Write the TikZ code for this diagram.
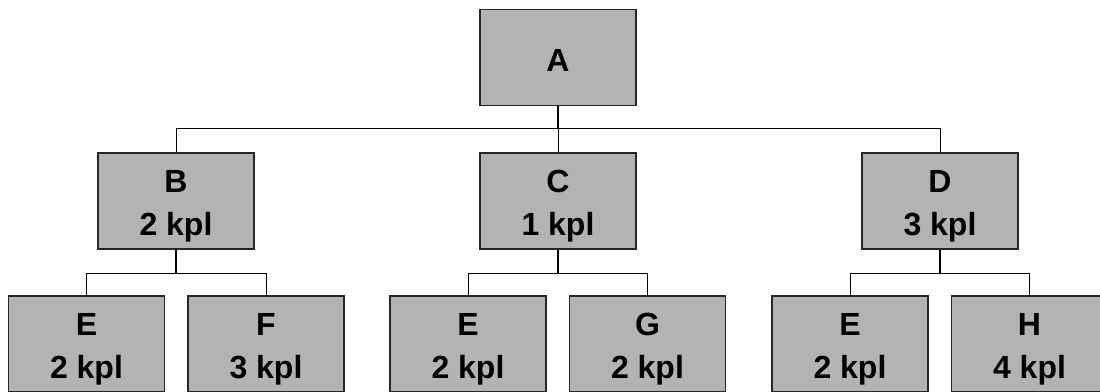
\documentclass[tikz,border=0pt]{standalone}
\usepackage{fontspec}
\setmainfont{Liberation Sans}
\usepackage{tikz}
\usetikzlibrary{positioning}

\definecolor{boxgray}{RGB}{179,179,179}
% taller first line, so the two lines sit a bit lower in the box
\newcommand{\topstrut}{\rule{0pt}{33pt}}

\begin{document}
\begin{tikzpicture}[x=1pt,y=1pt,node distance=143pt,on grid,
  box/.style={draw=black!85,line width=1.3pt,fill=boxgray,
    minimum width=156pt,minimum height=96pt,inner sep=0pt,align=center,
    font=\bfseries\fontsize{32}{42.5}\selectfont},
  root/.style={box,execute at begin node={\rule{0pt}{28pt}}},
  link/.style={line width=0.9pt},
  stem/.style={line width=1.6pt}]

  \useasboundingbox (0,0) rectangle (1100,-391);

  % top of the tree
  \node[root] (A) at (558,-57.5) {A};

  % second level
  \node[box] (C) [below=143.5pt of A] {\topstrut C\\1 kpl};
  \node[box] (B) [left=382pt of C] {\topstrut B\\2 kpl};
  \node[box] (D) [right=382pt of C] {\topstrut D\\3 kpl};

  % third level
  \node[box] (E1) [below left=143pt and 89.5pt of B] {\topstrut E\\2 kpl};
  \node[box] (F) [below right=143pt and 90pt of B] {\topstrut F\\3 kpl};
  \node[box] (E2) [below left=143pt and 90pt of C] {\topstrut E\\2 kpl};
  \node[box] (G) [below right=143pt and 89.5pt of C] {\topstrut G\\2 kpl};
  \node[box] (E3) [below left=143pt and 90pt of D] {\topstrut E\\2 kpl};
  \node[box] (H) [below right=143pt and 89.5pt of D] {\topstrut H\\4 kpl};

  % connectors
  \draw[stem] (A.south) -- ++(0,-22.7) coordinate (busA);
  \draw[link] (B.north) |- (busA) -| (D.north);
  \draw[link] (busA) -- (C.north);

  \draw[stem] (B.south) -- ++(0,-23.7) coordinate (busB);
  \draw[link] (E1.north) |- (busB) -| (F.north);

  \draw[stem] (C.south) -- ++(0,-23.7) coordinate (busC);
  \draw[link] (E2.north) |- (busC) -| (G.north);

  \draw[stem] (D.south) -- ++(0,-23.7) coordinate (busD);
  \draw[link] (E3.north) |- (busD) -| (H.north);

\end{tikzpicture}
\end{document}
